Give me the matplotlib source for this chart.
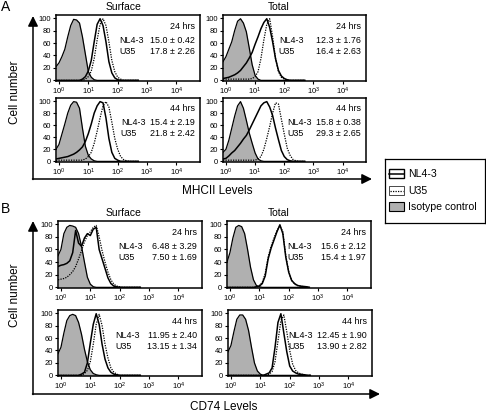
import matplotlib.pyplot as plt
import numpy as np
from matplotlib.patches import FancyArrowPatch, Rectangle

plt.rcParams['font.family'] = ['Liberation Sans', 'DejaVu Sans']
plt.rcParams['mathtext.fontset'] = 'custom'
plt.rcParams['mathtext.rm'] = 'Liberation Sans'
plt.rcParams['mathtext.default'] = 'regular'

# log10 fluorescence bins shared by all histograms
log_bins = [-0.1, 0.0, 0.1, 0.2, 0.3, 0.4, 0.5, 0.6, 0.7, 0.8, 0.9, 1.0, 1.1, 1.2, 1.3,
            1.4, 1.5, 1.6, 1.7, 1.8, 1.9, 2.0, 2.1, 2.2, 2.3, 2.4, 2.5, 2.6, 2.7]

# ---- A: MHCII ----
mhc_surf24_iso = [22, 28, 38, 50, 70, 88, 98, 97, 92, 70, 42, 14, 5, 1, 0, 0, 0, 0, 0, 0, 0, 0, 0, 0, 0, 0, 0, 0, 0]
mhc_surf24_nl = [0, 0, 0, 0, 0, 0, 0, 0, 0, 2, 6, 15, 32, 62, 90, 99, 88, 62, 30, 12, 4, 1, 0, 0, 0, 0, 0, 0, 0]
mhc_surf24_u35 = [0, 0, 0, 0, 0, 0, 0, 0, 0, 0, 2, 6, 15, 35, 65, 90, 99, 88, 62, 32, 14, 5, 2, 0, 0, 0, 0, 0, 0]

mhc_tot24_iso = [30, 38, 50, 62, 80, 95, 99, 92, 78, 52, 25, 8, 2, 0, 0, 0, 0, 0, 0, 0, 0, 0, 0, 0, 0, 0, 0, 0, 0]
mhc_tot24_nl = [3, 4, 5, 7, 9, 12, 16, 22, 28, 36, 45, 58, 70, 83, 93, 99, 85, 62, 35, 16, 7, 3, 1, 0, 0, 0, 0, 0, 0]
mhc_tot24_u35 = [2, 2, 2, 2, 2, 2, 2, 2, 2, 2, 3, 6, 14, 35, 65, 90, 99, 70, 35, 14, 5, 2, 0, 0, 0, 0, 0, 0, 0]

mhc_surf44_iso = [20, 28, 45, 62, 80, 93, 99, 98, 88, 55, 25, 10, 4, 1, 0, 0, 0, 0, 0, 0, 0, 0, 0, 0, 0, 0, 0, 0, 0]
mhc_surf44_nl = [4, 5, 6, 7, 8, 10, 12, 15, 19, 24, 33, 46, 62, 80, 92, 99, 97, 72, 38, 15, 5, 2, 0, 0, 0, 0, 0, 0, 0]
mhc_surf44_u35 = [1, 2, 2, 2, 2, 2, 2, 2, 2, 2, 4, 8, 15, 30, 50, 72, 92, 99, 90, 65, 38, 20, 8, 3, 1, 0, 0, 0, 0]

mhc_tot44_iso = [15, 20, 35, 55, 75, 92, 99, 88, 68, 47, 30, 14, 4, 1, 0, 0, 0, 0, 0, 0, 0, 0, 0, 0, 0, 0, 0, 0, 0]
mhc_tot44_nl = [4, 5, 9, 14, 18, 24, 30, 37, 43, 52, 62, 72, 82, 92, 97, 99, 90, 76, 55, 36, 18, 8, 3, 1, 0, 0, 0, 0, 0]
mhc_tot44_u35 = [2, 2, 2, 2, 2, 2, 2, 2, 2, 2, 2, 2, 4, 8, 20, 38, 58, 80, 97, 95, 70, 45, 22, 10, 3, 1, 0, 0, 0]

# ---- B: CD74 ----
cd74_surf24_iso = [50, 60, 85, 95, 98, 97, 95, 85, 65, 40, 16, 5, 1, 0, 0, 0, 0, 0, 0, 0, 0, 0, 0, 0, 0, 0, 0, 0, 0]
cd74_surf24_nl = [33, 35, 36, 38, 42, 55, 90, 70, 65, 78, 85, 82, 92, 95, 60, 45, 30, 15, 6, 2, 1, 0, 0, 0, 0, 0, 0, 0, 0]
cd74_surf24_u35 = [12, 13, 14, 16, 20, 25, 33, 45, 58, 72, 82, 88, 95, 98, 80, 58, 40, 24, 12, 5, 2, 1, 0, 0, 0, 0, 0, 0, 0]

cd74_tot24_iso = [40, 55, 78, 95, 98, 96, 85, 60, 32, 12, 3, 1, 0, 0, 0, 0, 0, 0, 0, 0, 0, 0, 0, 0, 0, 0, 0, 0, 0]
cd74_tot24_nl = [0, 0, 0, 0, 0, 0, 0, 0, 0, 0, 1, 2, 6, 18, 45, 62, 75, 88, 99, 85, 48, 24, 11, 6, 3, 2, 1.5, 1, 0]
cd74_tot24_u35 = [0, 0, 0, 0, 0, 0, 0, 0, 0, 0, 0, 3, 8, 22, 48, 65, 78, 90, 97, 88, 50, 25, 11, 5, 3, 2, 1, 0, 0]

cd74_surf44_iso = [35, 45, 68, 88, 96, 98, 96, 85, 66, 42, 22, 9, 3, 1, 0, 0, 0, 0, 0, 0, 0, 0, 0, 0, 0, 0, 0, 0, 0]
cd74_surf44_nl = [0, 0, 0, 0, 0, 0, 0, 0, 2, 5, 20, 52, 82, 99, 82, 50, 26, 12, 5, 2, 1, 0, 0, 0, 0, 0, 0, 0, 0]
cd74_surf44_u35 = [0, 0, 0, 0, 0, 0, 0, 0, 0, 3, 8, 22, 50, 82, 98, 80, 50, 28, 12, 5, 2, 0, 0, 0, 0, 0, 0, 0, 0]

cd74_tot44_iso = [38, 48, 70, 90, 97, 97, 90, 72, 45, 20, 7, 2, 0, 0, 0, 0, 0, 0, 0, 0, 0, 0, 0, 0, 0, 0, 0, 0, 0]
cd74_tot44_nl = [0, 0, 0, 0, 0, 0, 0, 0, 0, 0, 0, 0, 0, 2, 4, 12, 45, 85, 99, 68, 38, 15, 7, 4, 2, 1.5, 1, 0, 0]
cd74_tot44_u35 = [0, 0, 0, 0, 0, 0, 0, 0, 0, 0, 0, 0, 0, 0, 2, 6, 22, 55, 88, 97, 70, 40, 18, 8, 4, 2, 1, 0, 0]

# annotation text: time, NL4-3 value, U35 value
times = ['24 hrs', '24 hrs', '44 hrs', '44 hrs']
mhc_nl_vals = ['15.0 \u00b1 0.42', '12.3 \u00b1 1.76', '15.4 \u00b1 2.19', '15.8 \u00b1 0.38']
mhc_u35_vals = ['17.8 \u00b1 2.26', '16.4 \u00b1 2.63', '21.8 \u00b1 2.42', '29.3 \u00b1 2.65']
cd74_nl_vals = ['6.48 \u00b1 3.29', '15.6 \u00b1 2.12', '11.95 \u00b1 2.40', '12.45 \u00b1 1.90']
cd74_u35_vals = ['7.50 \u00b1 1.69', '15.4 \u00b1 1.97', '13.15 \u00b1 1.34', '13.90 \u00b1 2.82']

W, H = 486, 412
GRAY = '#b0b0b0'
FS = 6.4
fig = plt.figure(figsize=(W / 100, H / 100), dpi=100)


def add_box(l, t, r, b):
    return fig.add_axes([l / W, 1 - b / H, (r - l) / W, (b - t) / H])


def draw_hist(ax, iso, nl, u35, time, nl_val, u35_val, lab_x):
    x = 10 ** np.array(log_bins)
    ax.fill_between(x, 0, iso, color=GRAY, lw=0)
    ax.plot(x, iso, color='black', lw=0.9)
    ax.plot(x, u35, color='black', lw=0.9, ls=(0, (1, 1)))
    ax.plot(x, nl, color='black', lw=1.1)
    ax.set_xscale('log')
    ax.set_xlim(10 ** -0.1, 10 ** 4.8)
    ax.set_ylim(-1, 105)
    ax.set_yticks([0, 20, 40, 60, 80, 100])
    ax.set_xticks([1, 10, 100, 1000, 10000])
    ax.set_xticklabels(['$10^{%d}$' % i for i in range(5)])
    ax.minorticks_off()
    ax.tick_params(labelsize=5.5, length=2, width=0.8, pad=1.5)
    for s in ax.spines.values():
        s.set_linewidth(1.1)
    ax.text(0.965, 0.83, time, transform=ax.transAxes, ha='right', va='center', fontsize=FS)
    ax.text(lab_x, 0.62, 'NL4-3', transform=ax.transAxes, ha='left', va='center', fontsize=FS)
    ax.text(0.965, 0.62, nl_val, transform=ax.transAxes, ha='right', va='center', fontsize=FS)
    ax.text(lab_x, 0.45, 'U35', transform=ax.transAxes, ha='left', va='center', fontsize=FS)
    ax.text(0.965, 0.45, u35_val, transform=ax.transAxes, ha='right', va='center', fontsize=FS)


# panel A
a_boxes = [(56, 15, 200, 81), (223, 15, 366, 81), (56, 98, 200, 162), (223, 98, 366, 162)]
a_lab = [0.44, 0.39, 0.45, 0.45]
a_iso = [mhc_surf24_iso, mhc_tot24_iso, mhc_surf44_iso, mhc_tot44_iso]
a_nl = [mhc_surf24_nl, mhc_tot24_nl, mhc_surf44_nl, mhc_tot44_nl]
a_u35 = [mhc_surf24_u35, mhc_tot24_u35, mhc_surf44_u35, mhc_tot44_u35]
for i in range(4):
    ax = add_box(*a_boxes[i])
    draw_hist(ax, a_iso[i], a_nl[i], a_u35[i], times[i], mhc_nl_vals[i], mhc_u35_vals[i], a_lab[i])

# panel B
b_boxes = [(58, 221, 202, 288), (227, 221, 371, 288), (58, 310, 202, 376), (228, 310, 372, 376)]
b_lab = [0.42, 0.42, 0.40, 0.42]
b_iso = [cd74_surf24_iso, cd74_tot24_iso, cd74_surf44_iso, cd74_tot44_iso]
b_nl = [cd74_surf24_nl, cd74_tot24_nl, cd74_surf44_nl, cd74_tot44_nl]
b_u35 = [cd74_surf24_u35, cd74_tot24_u35, cd74_surf44_u35, cd74_tot44_u35]
for i in range(4):
    ax = add_box(*b_boxes[i])
    draw_hist(ax, b_iso[i], b_nl[i], b_u35[i], times[i], cd74_nl_vals[i], cd74_u35_vals[i], b_lab[i])


def ftext(px, py, s, **kw):
    fig.text(px / W, 1 - py / H, s, ha='center', va='center', **kw)


def farrow(x0, y0, x1, y1):
    fig.add_artist(FancyArrowPatch((x0 / W, 1 - y0 / H), (x1 / W, 1 - y1 / H),
                                   transform=fig.transFigure, arrowstyle='-|>,head_length=0.6,head_width=0.3',
                                   mutation_scale=10, color='black', lw=1.1, shrinkA=0, shrinkB=0))


# axes arrows
farrow(33, 179.5, 33, 16)
farrow(32.5, 179, 372, 179)
farrow(33, 394.5, 33, 221)
farrow(32.5, 394, 380, 394)

# titles and labels
ftext(6, 7, 'A', fontsize=10)
ftext(6, 209, 'B', fontsize=10)
ftext(124, 7, 'Surface', fontsize=7.5)
ftext(279, 7, 'Total', fontsize=7.5)
ftext(124, 213, 'Surface', fontsize=7.5)
ftext(279, 213, 'Total', fontsize=7.5)
ftext(15, 92, 'Cell number', fontsize=8.5, rotation=90)
ftext(15, 295, 'Cell number', fontsize=8.5, rotation=90)
ftext(217, 191, 'MHCII Levels', fontsize=8.5)
ftext(224, 407, 'CD74 Levels', fontsize=8.5)

# legend box
lax = add_box(385, 159, 485, 223)
lax.set_xlim(385, 485)
lax.set_ylim(223, 159)
lax.set_xticks([])
lax.set_yticks([])
for s in lax.spines.values():
    s.set_linewidth(0.9)
hy = [174, 191, 207]
lax.add_patch(Rectangle((389, hy[0] - 4.5), 15, 9, facecolor='white', edgecolor='black', lw=1.0))
lax.plot([389, 404], [hy[0], hy[0]], color='black', lw=1.1)
lax.add_patch(Rectangle((389, hy[1] - 4.5), 15, 9, facecolor='white', edgecolor='black', lw=0.5))
lax.plot([390, 403], [hy[1], hy[1]], color='black', lw=0.9, ls=(0, (1, 1)))
lax.add_patch(Rectangle((389, hy[2] - 4.5), 15, 9, facecolor=GRAY, edgecolor='black', lw=0.8))
for y, s in zip(hy, ['NL4-3', 'U35', 'Isotype control']):
    lax.text(408, y, s, ha='left', va='center', fontsize=7.6)

fig.savefig('out.png', dpi=100)
